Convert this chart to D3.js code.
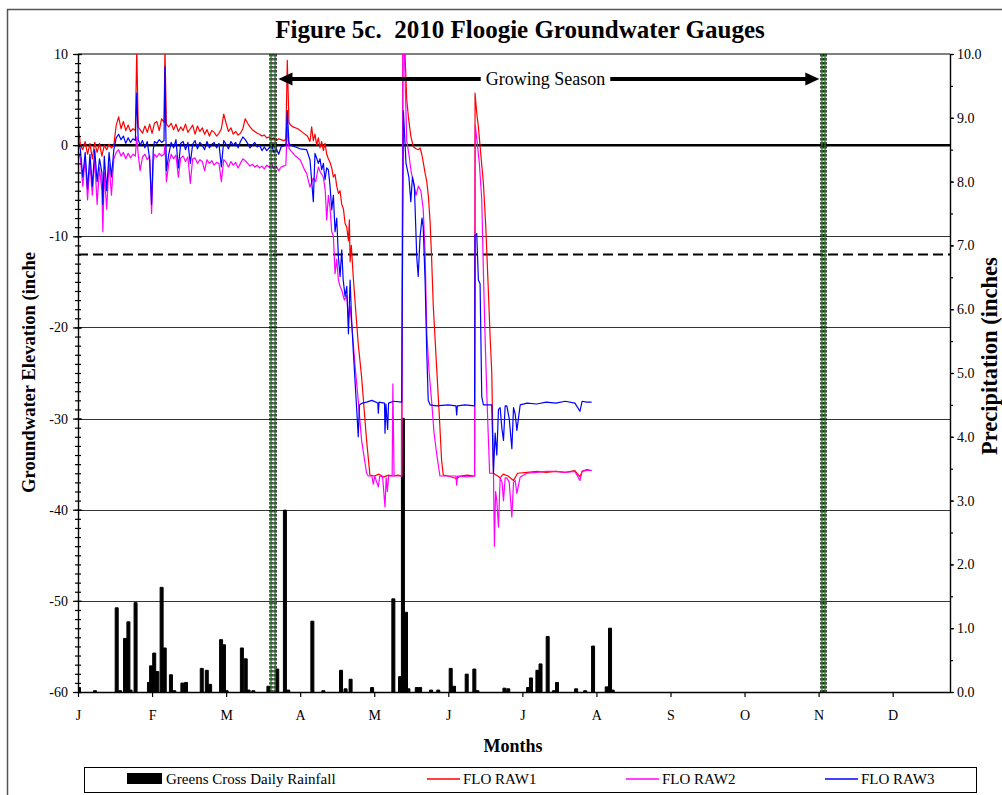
<!DOCTYPE html>
<html><head><meta charset="utf-8">
<script src="https://cdn.jsdelivr.net/npm/d3@7"></script>
<style>
body{margin:0;background:#fff;}
svg{display:block;font-family:"Liberation Serif","Times New Roman",serif;}
</style></head><body>
<svg id="c" width="1002" height="795"></svg>
<script>
// ---------- DATA ----------
const monthTicks=[0,31,62,93,124,155,186,217,248,279,310,341];
const monthLabels=["J","F","M","A","M","J","J","A","S","O","N","D"];
const leftTicks=[10,0,-10,-20,-30,-40,-50,-60];
const rightTicks=[0,1,2,3,4,5,6,7,8,9,10];
const gridLevels=[-10,-20,-30,-40,-50];
const zeroLevel=0;
const targetLevel=-12;
const seasonLines=[80.8,82.5,311.4,312.7];
const seasonArrowDays=[83.9,310.3];

const rainDays=[0.4,7.1,16.2,17.6,19.7,21.1,22,24.1,29.7,30.6,31.9,33.2,35,36.3,38.9,40.3,43.7,45.2,51.8,53.9,55.3,59.9,61.1,62.2,68.6,70.2,71.4,73.4,79.7,83.4,86.6,88,98.1,102.7,110.1,112,114.1,123.1,132,134.8,136,137.3,138.3,141.8,143.2,147.8,150.8,156,157.4,162.7,165.9,167.2,178.5,180.1,188.4,189.6,192.3,193.6,196.6,199.2,200.5,208.5,212.3,215.6,221.3,222.7,223.8];
const rainValues=[0.07,0.02,1.32,0.02,0.84,1.10,0.03,1.40,0.15,0.41,0.61,0.32,1.64,0.69,0.27,0.02,0.14,0.15,0.37,0.34,0.12,0.82,0.74,0.02,0.69,0.52,0.03,0.02,0.09,0.36,2.85,0.03,1.11,0.02,0.34,0.05,0.20,0.07,1.46,0.24,4.29,1.25,0.05,0.07,0.07,0.03,0.03,0.37,0.09,0.28,0.36,0.02,0.06,0.05,0.07,0.22,0.34,0.44,0.87,0.02,0.15,0.05,0.02,0.72,0.08,1.0,0.03];

const raw1=[[0,2.6],[1,0.0],[2,-0.5],[3,0.4],[4,-1.0],[5,0.2],[6,-1.5],[7,0.3],[8,-0.8],[9,0.2],[10,-1.2],[11,0.0],[12,-0.5],[13,0.1],[14,-0.3],[15,0.0],[16,2.2],[17,3.1],[18,1.8],[19,2.6],[20,1.6],[21,2.2],[22,1.5],[23,1.8],[24,1.6],[24.6,10.5],[25.2,2.0],[26,1.7],[27,1.3],[28,2.1],[29,1.4],[30,2.3],[31,1.3],[32,2.4],[33,2.6],[34,1.6],[35,2.9],[36,2.5],[36.4,10.5],[37,2.3],[38,2.0],[39,2.4],[40,1.7],[41,2.3],[42,1.5],[43,2.0],[44,1.6],[45,2.3],[46,1.4],[47,1.8],[48,2.2],[49,1.2],[50,2.1],[51,1.5],[52,1.9],[53,1.2],[54,1.7],[55,1.0],[56,1.6],[57,1.4],[58,1.0],[59,1.3],[60,1.8],[61,3.4],[62,2.4],[63,1.5],[64,1.9],[65,1.2],[66,1.5],[67,1.1],[68,1.3],[69,1.8],[70,2.9],[71,2.4],[72,2.0],[73,1.7],[74,1.5],[75,1.3],[76,1.2],[77,1.0],[78,1.1],[79,0.8],[80,0.9],[81,0.7],[82,0.8],[83,0.5],[84,0.7],[85,0.6],[86,0.5],[87,0.6],[87.6,9.3],[88.3,2.5],[89,2.2],[90,2.0],[92,1.8],[94,1.4],[96,1.0],[97.1,0.4],[97.8,2.0],[98.5,0.5],[99.2,1.2],[99.9,0.0],[100.6,0.8],[101.3,-0.3],[102,0.4],[102.7,-0.6],[103.4,0.2],[104.1,-1.0],[104.8,-1.5],[105.5,-1.9],[106.2,-2.5],[106.9,-3.5],[107.6,-3.2],[108.3,-4.5],[109,-5.3],[109.7,-5.0],[110.4,-6.5],[111.1,-7.0],[111.8,-8.6],[112.5,-9.0],[113.2,-10.5],[113.6,-8.2],[113.9,-12.8],[114.4,-11.0],[115.2,-14.4],[116.2,-18],[117.3,-21.8],[118.7,-25.4],[120.8,-32.4],[122.2,-36.2],[124,-36.3],[126,-36.1],[128,-36.4],[130,-36.2],[132,-36.3],[134,-36.2],[135.5,-36.3],[136,10.5],[136.8,10.5],[137.6,5],[138.3,3.1],[139.3,1],[140.4,-0.2],[141.5,-0.4],[142.5,-0.5],[143.2,-0.3],[143.9,-1.0],[144.6,-2.0],[145.3,-3.1],[146,-4.0],[146.7,-5.7],[147.4,-8.5],[148,-12.3],[148.7,-17.6],[150.1,-24.3],[151.2,-29.5],[152.2,-34.6],[152.9,-36.2],[155,-36.3],[158.5,-36.6],[160,-36.3],[163,-36.2],[166,-36.3],[166.2,5.7],[166.9,3.5],[167.6,2.0],[168.6,-1],[169.7,-4.2],[170.7,-9],[171.7,-15.5],[172.5,-21],[173.2,-25],[173.9,-36],[175,-36.2],[176.7,-36.5],[178,-36.1],[180,-36.3],[182.3,-36.8],[184,-36.0],[188,-35.9],[192,-35.8],[196,-35.9],[200,-35.8],[204,-35.9],[208,-35.7],[210.1,-36.4],[211,-35.8],[213,-35.6],[215,-35.7]];

const raw2=[[0,-0.5],[1,-1.5],[2,-4.5],[3,-1.5],[4,-6.0],[5,-2.0],[6,-5.5],[7,-1.5],[8,-6.5],[9,-2.5],[10,-5.0],[10.4,-9.5],[11,-3.0],[12,-7.0],[13,-2.0],[14,-5.5],[15,-1.5],[16,-0.8],[17,-0.5],[18,-1.2],[19,-0.8],[20,-1.5],[21,-0.9],[22,-1.4],[23,-1.0],[24,-1.2],[24.6,0.9],[25.2,-1.0],[26,-2.8],[27,-1.3],[28,-1.0],[29,-1.6],[30,-1.2],[30.8,-7.5],[31.5,-1.8],[32,-1.0],[33,-1.3],[34,-0.9],[35,-1.2],[36,-1.0],[36.4,0.0],[37,-4.0],[38,-2.0],[39,-1.0],[40,-1.5],[41,-1.1],[42,-3.5],[43,-1.4],[44,-1.2],[45,-1.8],[46,-1.3],[47,-4.2],[48,-1.5],[49,-1.4],[50,-2.0],[51,-1.6],[52,-1.8],[53,-2.8],[54,-1.6],[55,-2.0],[56,-1.7],[57,-2.2],[58,-1.9],[59,-2.0],[60,-4.0],[61,-1.6],[62,-1.9],[63,-2.4],[64,-1.8],[65,-2.2],[66,-1.9],[67,-2.5],[68,-2.0],[69,-1.5],[70,-1.7],[71,-2.0],[72,-2.3],[73,-2.1],[74,-2.4],[75,-2.2],[76,-2.5],[77,-2.3],[78,-2.6],[79,-2.2],[80,-2.4],[81,-2.0],[82,-2.6],[83,-2.3],[84,-2.8],[85,-2.4],[86,-2.3],[87,-2.2],[87.6,2.0],[88.3,-0.3],[88.7,-0.5],[91,-1.2],[93,-1.6],[95,-2.8],[95.7,-3.1],[97.1,-4.6],[98.5,-3.6],[99.5,-4.0],[100.6,-2.4],[101.5,-3.0],[102.7,-3.5],[103.5,-5.0],[104.1,-8.2],[104.8,-5.5],[105.5,-6.9],[106.2,-9.5],[106.9,-10.0],[107.6,-14.1],[108.3,-12.5],[109,-14.8],[109.7,-15.5],[110.4,-15.9],[111.5,-17],[112.5,-16.5],[113.2,-19],[113.9,-17.7],[115,-21],[116,-24.3],[117.3,-28],[118.7,-32.4],[120.8,-36],[121.5,-36.3],[123,-36.3],[123.6,-37.2],[124.2,-36.3],[125.7,-37.5],[126.3,-36.3],[127.5,-36.4],[128.5,-39.7],[129,-36.5],[129.5,-38],[130,-36.3],[131.5,-36.3],[131.8,-26.2],[132.3,-36.3],[135.5,-36.3],[136,10.5],[136.6,10.5],[137.6,0.5],[138.5,-1],[139.5,-3],[140.5,-4.2],[141.5,-5.5],[142.5,-4.5],[143.5,-5],[144.5,-7],[145.3,-12],[146,-20.7],[147,-25],[148,-28],[149,-31.5],[150.1,-33.8],[151.5,-36.3],[155,-36.3],[158.2,-36.3],[158.5,-37.3],[158.8,-36.3],[163,-36.4],[166,-36.3],[166.3,2.2],[167,0.5],[168,-2],[169,-6],[169.7,-14],[170.5,-22],[171.3,-28.7],[172.3,-36],[173.9,-36],[174.3,-44],[174.8,-38],[175.3,-39],[176,-41.9],[176.7,-36.5],[177.5,-37],[178.1,-39],[178.8,-36.5],[179.5,-36.5],[180.5,-37],[181.6,-40.8],[182.3,-37],[183,-36.8],[183.7,-38.2],[185.1,-36.4],[187.9,-36],[192,-35.9],[196,-35.8],[200,-35.8],[204,-35.9],[208,-35.8],[210.1,-36.8],[211,-35.8],[213,-35.7],[215,-35.7]];

const raw3=[[0,0.7],[1,-0.5],[2,-3.5],[3,-0.8],[4,-4.8],[5,-1.0],[6,-4.5],[7,-0.5],[8,-4.0],[9,-1.5],[10,-3.0],[10.4,-6.5],[11,-1.2],[12,-5.0],[13,-0.8],[14,-3.5],[15,-0.5],[16,0.8],[17,1.2],[18,0.6],[19,1.0],[20,0.2],[21,0.8],[22,0.3],[23,0.7],[24,0.5],[24.6,5.7],[25.2,0.6],[26,0.0],[27,0.5],[28,-0.3],[29,0.4],[30,-1.6],[30.8,-6.5],[31.5,-0.5],[32,0.4],[33,0.2],[34,0.6],[35,0.3],[36,0.5],[36.4,8.6],[37,-2.8],[38,-1.0],[39,0.3],[40,-0.3],[41,0.6],[42,-2.5],[43,0.2],[44,0.4],[45,-0.5],[46,0.3],[47,-2.0],[48,0.1],[49,0.5],[50,-0.4],[51,0.3],[52,0.0],[53,-0.5],[54,0.4],[55,-0.3],[56,0.1],[57,0.3],[58,-0.3],[59,0.2],[60,-2.4],[61,0.5],[62,0.1],[63,-0.4],[64,0.4],[65,0.0],[66,0.3],[67,-0.3],[68,0.4],[69,0.9],[70,0.6],[71,0.2],[72,-0.3],[73,0.0],[74,0.3],[75,-0.2],[76,0.0],[77,-0.6],[78,-0.2],[79,-0.6],[80,-0.3],[81,0.0],[82,-0.8],[83,-0.4],[84,-1.0],[85,-0.2],[86,-0.1],[87,0.0],[87.6,3.8],[88.3,0.2],[89,0.0],[91,-0.2],[93,-0.4],[95.7,-0.5],[97.1,-1.6],[98.5,-6.2],[99.2,-0.9],[100,-1.5],[100.6,-2.0],[101.3,-1.5],[102,-2.7],[102.7,-2.0],[103.4,-3.8],[104.1,-2.5],[104.8,-2.7],[105.5,-4.5],[106.2,-7.1],[106.9,-5.5],[107.6,-9.5],[108.3,-8.0],[109,-12.3],[109.7,-14.4],[110.4,-11.5],[111,-14.8],[111.8,-16.6],[112.5,-15.5],[113.2,-20.7],[113.9,-14.8],[114.5,-19],[115.2,-22.5],[116.6,-28.7],[117.3,-32],[117.8,-28.5],[119,-28.3],[120.8,-28.2],[123,-28.0],[125.5,-28.3],[125.7,-29.4],[126,-28.2],[128.3,-28.3],[128.5,-31.6],[128.9,-28.4],[129.6,-31.2],[130,-28.3],[132,-28.1],[135.5,-28.2],[136.2,3.8],[137.3,-2],[138.5,-3.5],[139.3,-6.2],[140,-3.5],[140.8,-4.5],[141.8,-12.3],[142.4,-14.4],[143.2,-10],[144,-8],[144.5,-9],[145.3,-15],[146,-22.9],[146.6,-28],[147.4,-28.5],[150,-28.6],[155,-28.5],[158.2,-28.6],[158.5,-29.6],[158.8,-28.6],[162,-28.5],[166,-28.6],[166.2,-9.9],[166.9,-9.7],[167.6,-14.8],[168.3,-15.2],[169,-27.6],[169.7,-28.5],[173.2,-28.5],[173.9,-36],[174.6,-31.6],[175.3,-34],[176,-29],[176.7,-28.8],[177.4,-31],[178.1,-32.4],[178.8,-28.6],[179.5,-28.6],[180.5,-30],[181.6,-33.3],[182.3,-28.8],[183,-29.5],[183.7,-31.3],[185.1,-28.5],[188,-28.3],[192,-28.4],[196,-28.2],[200,-28.3],[204,-28.1],[208,-28.3],[210.1,-29.2],[211,-28.1],[213,-28.2],[215,-28.2]];

const seriesNames=["FLO RAW1","FLO RAW2","FLO RAW3"];
const rainName="Greens Cross Daily Rainfall";

// ---------- LAYOUT ----------
const L=78,R=950,T=54,B=692;
const svg=d3.select("#c");
const FONT='"Liberation Serif","Times New Roman",serif';
const x=d3.scaleLinear().domain([0,365]).range([L,R]);
const y=d3.scaleLinear().domain([-60,10]).range([B,T]);
const y2=d3.scaleLinear().domain([0,10]).range([B,T]);

// outer chart border
svg.append("rect").attr("x",7.5).attr("y",9.5).attr("width",1020).attr("height",820)
  .attr("fill","none").attr("stroke","#555").attr("stroke-width",1.5);

svg.append("defs").append("clipPath").attr("id","plotclip")
  .append("rect").attr("x",L).attr("y",T).attr("width",R-L).attr("height",B-T);

// gridlines
svg.append("g").selectAll("line").data(gridLevels).join("line")
  .attr("x1",L).attr("x2",R).attr("y1",d=>Math.round(y(d))+0.5).attr("y2",d=>Math.round(y(d))+0.5)
  .attr("stroke","#333").attr("stroke-width",1);
// top border
svg.append("line").attr("x1",L).attr("x2",R).attr("y1",y(10)).attr("y2",y(10)).attr("stroke","#000").attr("stroke-width",1);

// rainfall bars
svg.append("g").attr("clip-path","url(#plotclip)").selectAll("rect").data(d3.zip(rainDays,rainValues)).join("rect")
  .attr("x",d=>x(d[0])-1.5).attr("width",3)
  .attr("y",d=>y2(d[1])).attr("height",d=>B-y2(d[1]))
  .attr("fill","#000").attr("stroke","#000").attr("stroke-width",1).attr("stroke-linejoin","round");

// reference lines
svg.append("line").attr("x1",L).attr("x2",R).attr("y1",y(zeroLevel)).attr("y2",y(zeroLevel))
  .attr("stroke","#000").attr("stroke-width",2.5);
svg.append("line").attr("x1",L).attr("x2",R).attr("y1",y(targetLevel)).attr("y2",y(targetLevel))
  .attr("stroke","#000").attr("stroke-width",2).attr("stroke-dasharray","10,5");

// series
const line=d3.line().x(d=>x(d[0])).y(d=>y(d[1]));
const colors=["#ff0000","#ff00ff","#0000ff"];
const gS=svg.append("g").attr("clip-path","url(#plotclip)");
[raw1,raw2,raw3].forEach((s,i)=>{
  gS.append("path").datum(s).attr("d",line).attr("fill","none")
    .attr("stroke",colors[i]).attr("stroke-width",1.2).attr("stroke-linejoin","round");
});

// growing season boundary lines
const gG=svg.append("g");
seasonLines.forEach(d=>{
  const xx=x(d);
  gG.append("line").attr("x1",xx).attr("x2",xx).attr("y1",T).attr("y2",B).attr("stroke","#139a13").attr("stroke-width",1.4);
  [-1.1,1.1].forEach(o=>gG.append("line").attr("x1",xx+o).attr("x2",xx+o).attr("y1",T).attr("y2",B)
    .attr("stroke","#000").attr("stroke-width",1.1).attr("stroke-dasharray","2.5,1.5"));
});

// axes
function styleAxis(g){
  g.attr("font-family",FONT).attr("font-size",14);
  g.selectAll("text").attr("fill","#000");
  g.selectAll("line").attr("stroke","#000").attr("stroke-width",1.2);
  g.select(".domain").attr("stroke","#000").attr("stroke-width",1.4);
}
const minorLeft=d3.range(-60,10.5,1);
const minorRight=d3.range(0,10.25,0.5);
let g;
g=svg.append("g").attr("transform",`translate(${L},0)`).call(d3.axisLeft(y).tickValues(minorLeft).tickSize(3).tickFormat(""));
g.select(".domain").remove(); styleAxis(g);
g=svg.append("g").attr("transform",`translate(${L},0)`).call(d3.axisRight(y).tickValues(minorLeft).tickSize(3).tickFormat(""));
g.select(".domain").remove(); styleAxis(g);
g=svg.append("g").attr("transform",`translate(${L},0)`).call(d3.axisRight(y).tickValues(leftTicks).tickSize(4).tickFormat(""));
g.select(".domain").remove(); styleAxis(g);
g=svg.append("g").attr("transform",`translate(${L},0)`).call(d3.axisLeft(y).tickValues(leftTicks).tickSize(5).tickSizeOuter(0).tickPadding(5).tickFormat(d=>String(d)));
styleAxis(g);

g=svg.append("g").attr("transform",`translate(${R},0)`).call(d3.axisRight(y2).tickValues(minorRight).tickSize(3).tickFormat(""));
g.select(".domain").remove(); styleAxis(g);
g=svg.append("g").attr("transform",`translate(${R},0)`).call(d3.axisRight(y2).tickValues(rightTicks).tickSize(4).tickSizeOuter(0).tickPadding(3).tickFormat(d=>d.toFixed(1)));
styleAxis(g);

g=svg.append("g").attr("transform",`translate(0,${B})`).call(d3.axisBottom(x).tickValues(monthTicks).tickFormat((d,i)=>monthLabels[i]).tickSize(5).tickSizeOuter(0).tickPadding(13));
styleAxis(g);

// growing season arrow
const ay=79, ax1=x(seasonArrowDays[0]), ax2=x(seasonArrowDays[1]);
const gA=svg.append("g");
const gsText=gA.append("text").attr("x",545.5).attr("y",ay+6).attr("text-anchor","middle")
  .attr("font-family",FONT).attr("font-size",18).text("Growing Season");
const bb=gsText.node().getBBox();
gA.append("line").attr("x1",ax1+12).attr("x2",bb.x-5).attr("y1",ay).attr("y2",ay).attr("stroke","#000").attr("stroke-width",4);
gA.append("line").attr("x1",bb.x+bb.width+5).attr("x2",ax2-12).attr("y1",ay).attr("y2",ay).attr("stroke","#000").attr("stroke-width",4);
gA.append("path").attr("d",`M${ax1},${ay} L${ax1+14},${ay-6.5} L${ax1+14},${ay+6.5} Z`).attr("fill","#000");
gA.append("path").attr("d",`M${ax2},${ay} L${ax2-14},${ay-6.5} L${ax2-14},${ay+6.5} Z`).attr("fill","#000");

// titles
svg.append("text").attr("x",520).attr("y",38).attr("text-anchor","middle")
  .attr("font-family",FONT).attr("font-weight","bold").attr("font-size",25)
  .style("white-space","pre").text("Figure 5c.  2010 Floogie Groundwater Gauges");
svg.append("text").attr("x",513).attr("y",752).attr("text-anchor","middle")
  .attr("font-family",FONT).attr("font-weight","bold").attr("font-size",18).text("Months");
svg.append("text").attr("transform","translate(35,493) rotate(-90)").attr("text-anchor","start")
  .attr("font-family",FONT).attr("font-weight","bold").attr("font-size",18.6).text("Groundwater Elevation (inche");
svg.append("text").attr("transform","translate(997,455) rotate(-90)").attr("text-anchor","start")
  .attr("font-family",FONT).attr("font-weight","bold").attr("font-size",22.5).text("Precipitation (inches");

// legend
const lg=svg.append("g");
lg.append("rect").attr("x",84.5).attr("y",767.5).attr("width",892).attr("height",25)
  .attr("fill","#fff").attr("stroke","#000").attr("stroke-width",1);
lg.append("rect").attr("x",127).attr("y",773).attr("width",35).attr("height",11).attr("fill","#000");
lg.append("text").attr("x",166).attr("y",784).attr("font-family",FONT).attr("font-size",15).text(rainName);
const legX=[427,626,825];
seriesNames.forEach((n,i)=>{
  lg.append("line").attr("x1",legX[i]).attr("x2",legX[i]+33).attr("y1",779).attr("y2",779)
    .attr("stroke",colors[i]).attr("stroke-width",1.5);
  lg.append("text").attr("x",legX[i]+36).attr("y",784).attr("font-family",FONT).attr("font-size",15).text(n);
});
</script>
</body></html>
